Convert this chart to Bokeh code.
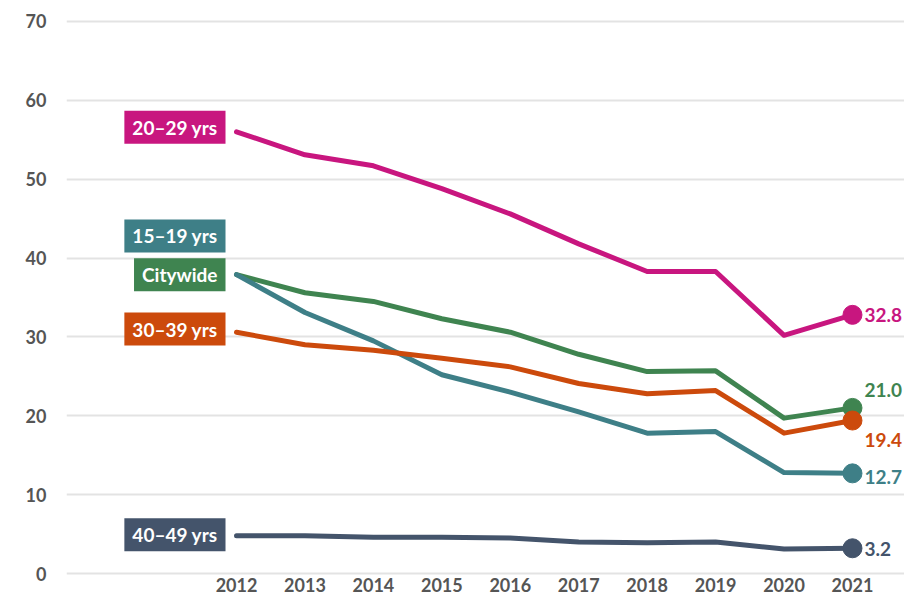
from bokeh.plotting import figure
from bokeh.models import Range1d, Label, FixedTicker
from bokeh.embed import file_html
from bokeh.resources import INLINE

years = [2012, 2013, 2014, 2015, 2016, 2017, 2018, 2019, 2020, 2021]
y_ticks = [0, 10, 20, 30, 40, 50, 60, 70]

age_20_29 = [56.0, 53.1, 51.7, 48.8, 45.6, 41.8, 38.3, 38.3, 30.2, 32.8]
citywide = [37.9, 35.6, 34.5, 32.3, 30.6, 27.8, 25.6, 25.7, 19.7, 21.0]
age_15_19 = [37.9, 33.1, 29.5, 25.2, 23.0, 20.5, 17.8, 18.0, 12.8, 12.7]
age_30_39 = [30.6, 29.0, 28.3, 27.3, 26.2, 24.1, 22.8, 23.2, 17.8, 19.4]
age_40_49 = [4.8, 4.8, 4.6, 4.6, 4.5, 4.0, 3.9, 4.0, 3.1, 3.2]

series_names = ["20–29 yrs", "Citywide", "15–19 yrs", "30–39 yrs", "40–49 yrs"]
series_values = [age_20_29, citywide, age_15_19, age_30_39, age_40_49]
colors = ["#C8167F", "#3F8450", "#3E7F87", "#CC4A0C", "#44546B"]
# vertical nudges (data units) for the name boxes and end labels
name_dy = [0.6, 0.0, 4.9, 0.4, 0.1]
end_dy = [0.0, 2.3, -0.5, -2.5, -0.1]

FONT_S = "Lato"

p = figure(width=904, height=595, output_backend="svg", toolbar_location=None,
           x_range=Range1d(2009.516, 2021.76), y_range=Range1d(-0.38, 71.14),
           min_border_left=66, min_border_right=0, min_border_top=12,
           min_border_bottom=19)
p.outline_line_color = None
p.background_fill_color = "white"
p.border_fill_color = "white"

p.xgrid.grid_line_color = None
p.ygrid.grid_line_color = "#E3E3E3"
p.ygrid.grid_line_width = 2
p.yaxis.ticker = FixedTicker(ticks=y_ticks)
p.xaxis.ticker = FixedTicker(ticks=years)

for ax in (p.xaxis, p.yaxis):
    ax.axis_line_color = None
    ax.major_tick_line_color = None
    ax.minor_tick_line_color = None
    ax.major_tick_out = 0
    ax.major_tick_in = 0
    ax.minor_tick_out = 0
    ax.major_label_text_font = FONT_S
    ax.major_label_text_font_style = "bold"
    ax.major_label_text_font_size = "18px"
    ax.major_label_text_color = "#555555"
p.yaxis.major_label_standoff = 20
p.xaxis.major_label_standoff = 1

for name, vals, col, ndy, edy in zip(series_names, series_values, colors, name_dy, end_dy):
    p.line(years, vals, line_color=col, line_width=5, line_join="round", line_cap="round")
    p.scatter([years[-1]], [vals[-1]], size=19, fill_color=col, line_color=col)
    p.add_layout(Label(x=years[-1], y=vals[-1] + edy, x_offset=12, text=f"{vals[-1]:.1f}",
                       text_font=FONT_S, text_font_style="bold", text_font_size="19px",
                       text_color=col, text_align="left", text_baseline="middle"))
    p.add_layout(Label(x=years[0], y=vals[0] + ndy, x_offset=-11, text=name,
                       text_font=FONT_S, text_font_style="bold", text_font_size="19px",
                       text_color="white", text_align="right", text_baseline="middle",
                       background_fill_color=col, padding=(8, 5)))

open("out.html", "w").write(file_html(p, INLINE))
